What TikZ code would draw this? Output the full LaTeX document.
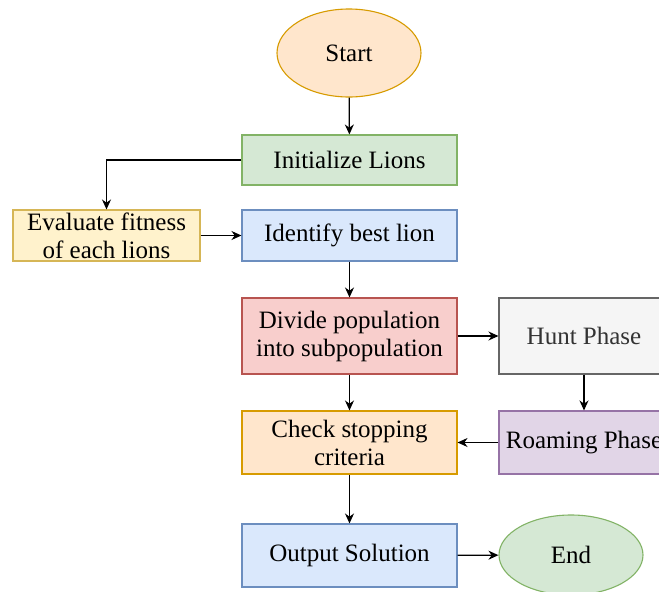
\documentclass[tikz,border=0pt]{standalone}
\usepackage{fontspec}
\setmainfont{Liberation Serif}
\usetikzlibrary{shapes.geometric,arrows.meta}

\definecolor{orfill}{HTML}{FFE6CC}\definecolor{orline}{HTML}{D79B00}
\definecolor{grfill}{HTML}{D5E8D4}\definecolor{grline}{HTML}{82B366}
\definecolor{yefill}{HTML}{FFF2CC}\definecolor{yeline}{HTML}{D6B656}
\definecolor{blfill}{HTML}{DAE8FC}\definecolor{blline}{HTML}{6C8EBF}
\definecolor{rdfill}{HTML}{F8CECC}\definecolor{rdline}{HTML}{B85450}
\definecolor{gyfill}{HTML}{F5F5F5}\definecolor{gyline}{HTML}{666666}\definecolor{gytext}{HTML}{333333}
\definecolor{pufill}{HTML}{E1D5E7}\definecolor{puline}{HTML}{9673A6}

\tikzset{
  box/.style={rectangle, draw, line width=1.1pt, align=center, inner sep=0pt,
    font=\fontsize{25}{28}\selectfont},
  oval/.style={ellipse, draw, line width=1.1pt, inner sep=0pt,
    font=\fontsize{25}{28}\selectfont},
  flow/.style={line width=1.2pt, -{Stealth[length=10pt,width=9pt]}},
}

\begin{document}
\begin{tikzpicture}[x=1pt,y=-1pt]
\useasboundingbox (0,0) rectangle (659,592);
\clip (0,0) rectangle (659,592);

% terminals
\node[oval, fill=orfill, draw=orline, minimum width=144pt, minimum height=88pt] (start) at (349,53) {Start};
\node[oval, fill=grfill, draw=grline, minimum width=144pt, minimum height=80pt] (end) at (571,555) {End};

% process steps
\node[box, fill=grfill, draw=grline, minimum width=215pt, minimum height=50pt] (init) at (349.5,160) {Initialize Lions};
\node[box, fill=yefill, draw=yeline, minimum width=187pt, minimum height=51pt] (eval) at (106.5,235.5) {Evaluate fitness\\of each lions};
\node[box, fill=blfill, draw=blline, minimum width=215pt, minimum height=51pt] (best) at (349.5,235.5) {Identify best lion};
\node[box, fill=rdfill, draw=rdline, minimum width=215pt, minimum height=76pt] (divide) at (349.5,336) {Divide population\\into subpopulation};
\node[box, fill=gyfill, draw=gyline, text=gytext, minimum width=170pt, minimum height=76pt] (hunt) at (584,336) {Hunt Phase};
\node[box, fill=orfill, draw=orline, minimum width=215pt, minimum height=63pt] (check) at (349.5,442.5) {Check stopping\\criteria};
\node[box, fill=pufill, draw=puline, minimum width=170pt, minimum height=63pt] (roam) at (584,442.5) {Roaming Phase};
\node[box, fill=blfill, draw=blline, minimum width=215pt, minimum height=63pt] (out) at (349.5,555.5) {Output Solution};

% connectors
\draw[flow] (start) -- (init);
\draw[flow] (init.west) -| (eval.north);
\draw[flow] (eval) -- (best);
\draw[flow] (best) -- (divide);
\draw[flow] (divide) -- (hunt);
\draw[flow] (hunt) -- (roam);
\draw[flow] (roam) -- (check);
\draw[flow] (divide) -- (check);
\draw[flow] (check) -- (out);
\draw[flow] (out) -- (end);
\end{tikzpicture}
\end{document}
